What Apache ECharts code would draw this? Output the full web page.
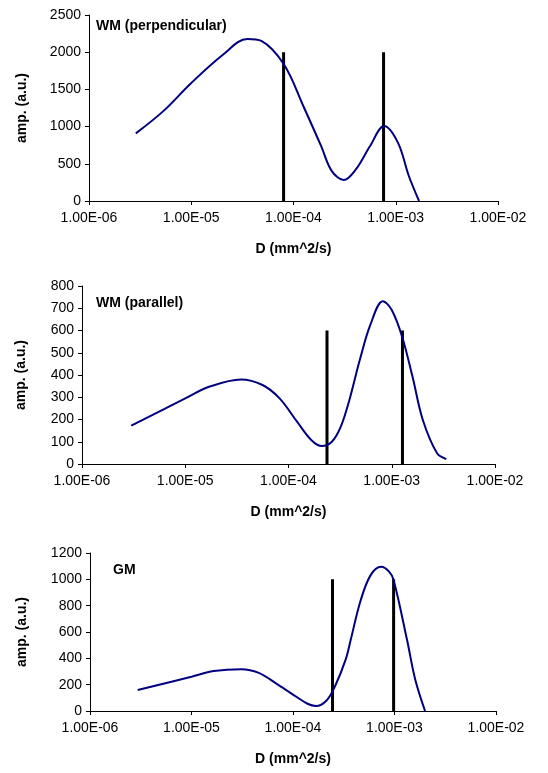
<!DOCTYPE html>
<html lang="en">
<head>
    <meta charset="UTF-8">
    <title>Diffusion spectra</title>
    <script src="https://cdn.jsdelivr.net/npm/echarts@6/dist/echarts.min.js"></script>
    <style>
        html, body { margin: 0; padding: 0; background: #fff; }
        #chart { width: 548px; height: 773px; }
    </style>
</head>
<body>
    <div id="chart"></div>
    <script type="text/javascript">
        // tick values of the log axis (decades)
        var xTicks = [1e-6, 1e-5, 1e-4, 1e-3, 1e-2];

        // WM (perpendicular)
        var perpD   = [2.87e-6, 5.33e-6, 1.0e-5, 2.04e-5, 3.54e-5, 4.85e-5, 8.1e-5, 1.25e-4, 1.86e-4, 2.36e-4, 3.1e-4, 4.09e-4, 5.61e-4, 7.69e-4, 1.05e-3, 1.34e-3, 1.69e-3];
        var perpAmp = [909, 1208, 1586, 1965, 2179, 2152, 1831, 1274, 740, 405, 281, 428, 740, 1007, 784, 339, 0];
        var perpBarD = [8.0e-5, 7.6e-4];
        var perpBarH = 2000;

        // WM (parallel)
        var parD   = [3.0e-6, 1.0e-5, 1.73e-5, 3.47e-5, 5.6e-5, 8.2e-5, 1.21e-4, 1.66e-4, 2.09e-4, 2.63e-4, 3.21e-4, 3.89e-4, 4.9e-4, 6.2e-4, 8.2e-4, 1.0e-3, 1.26e-3, 1.59e-3, 2.0e-3, 2.75e-3, 3.38e-3];
        var parAmp = [172, 295, 348, 380, 355, 295, 190, 108, 81, 100, 168, 288, 467, 625, 732, 692, 572, 392, 198, 48, 22];
        var parBarD = [2.36e-4, 1.27e-3];
        var parBarH = 600;

        // GM
        var gmD   = [2.95e-6, 1.0e-5, 1.65e-5, 3.1e-5, 4.6e-5, 6.8e-5, 1.0e-4, 1.39e-4, 1.68e-4, 2.14e-4, 2.6e-4, 3.3e-4, 3.7e-4, 4.6e-4, 5.8e-4, 7.4e-4, 8.8e-4, 9.8e-4, 1.33e-3, 1.6e-3, 2.0e-3];
        var gmAmp = [159, 260, 303, 318, 290, 210, 125, 55, 38, 80, 190, 390, 539, 830, 1030, 1095, 1060, 995, 539, 240, 0];
        var gmBarD = [2.45e-4, 9.8e-4];
        var gmBarH = 1000;

        var font = 'Arial, "Liberation Sans", sans-serif';

        function expLabel(v) {
            var e = Math.round(Math.log10(v));
            var s = String(Math.abs(e));
            if (s.length < 2) s = '0' + s;
            return '1.00E' + (e < 0 ? '-' : '+') + s;
        }

        function xAxisFor(i) {
            return {
                type: 'log', logBase: 10, gridIndex: i,
                min: xTicks[0], max: xTicks[xTicks.length - 1],
                name: 'D (mm^2/s)', nameLocation: 'middle', nameGap: 41,
                nameTextStyle: { fontFamily: font, fontSize: 14, fontWeight: 'bold', color: '#000' },
                axisLine: { lineStyle: { color: '#000', width: 1 } },
                axisTick: { show: true, length: 4, lineStyle: { color: '#000' } },
                minorTick: { show: false },
                splitLine: { show: false },
                axisLabel: { fontFamily: font, fontSize: 14, color: '#000', margin: 10, formatter: expLabel }
            };
        }

        function yAxisFor(i, max, step, gap) {
            return {
                type: 'value', gridIndex: i, min: 0, max: max, interval: step,
                name: 'amp. (a.u.)', nameLocation: 'middle', nameGap: gap, nameRotate: 90,
                nameTextStyle: { fontFamily: font, fontSize: 14, fontWeight: 'bold', color: '#000' },
                axisLine: { show: true, lineStyle: { color: '#000', width: 1 } },
                axisTick: { show: true, length: 4, lineStyle: { color: '#000' } },
                splitLine: { show: false },
                axisLabel: { fontFamily: font, fontSize: 14, color: '#000', margin: 8,
                             formatter: function (v) { return String(v); } }
            };
        }

        function curve(i, xs, ys) {
            return {
                type: 'line', xAxisIndex: i, yAxisIndex: i,
                data: xs.map(function (x, k) { return [x, ys[k]]; }),
                smooth: 0.35, showSymbol: false, symbol: 'none',
                lineStyle: { color: '#000080', width: 2 },
                silent: true, z: 3
            };
        }

        function bar(i, x, h) {
            return {
                type: 'line', xAxisIndex: i, yAxisIndex: i,
                data: [[x, 0], [x, h]],
                showSymbol: false, symbol: 'none',
                lineStyle: { color: '#000', width: 3 },
                silent: true, z: 2
            };
        }

        var myChart = echarts.init(document.getElementById('chart'));

        var series = [
            curve(0, perpD, perpAmp),
            curve(1, parD, parAmp),
            curve(2, gmD, gmAmp)
        ];
        perpBarD.forEach(function (x) { series.push(bar(0, x, perpBarH)); });
        parBarD.forEach(function (x) { series.push(bar(1, x, parBarH)); });
        gmBarD.forEach(function (x) { series.push(bar(2, x, gmBarH)); });

        var titleStyle = { fontFamily: font, fontSize: 14, fontWeight: 'bold', color: '#000' };

        var option = {
            animation: false,
            backgroundColor: '#fff',
            title: [
                { text: 'WM (perpendicular)', left: 96, top: 19, padding: 0, textStyle: titleStyle },
                { text: 'WM (parallel)', left: 96, top: 296, padding: 0, textStyle: titleStyle },
                { text: 'GM', left: 113, top: 563, padding: 0, textStyle: titleStyle }
            ],
            grid: [
                { left: 89, width: 409, top: 15, height: 186 },
                { left: 82, width: 413, top: 286, height: 178 },
                { left: 90, width: 406, top: 553, height: 158 }
            ],
            xAxis: [xAxisFor(0), xAxisFor(1), xAxisFor(2)],
            yAxis: [yAxisFor(0, 2500, 500, 60), yAxisFor(1, 800, 100, 54), yAxisFor(2, 1200, 200, 61)],
            series: series
        };

        myChart.setOption(option);
    </script>
</body>
</html>
